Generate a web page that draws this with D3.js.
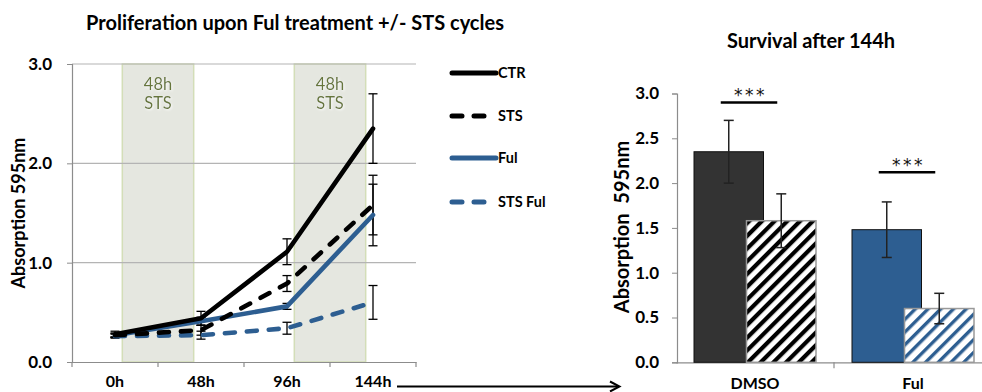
<!DOCTYPE html>
<html><head><meta charset="utf-8">
<script src="https://cdn.jsdelivr.net/npm/d3@7"></script>
<style>
html,body{margin:0;padding:0;background:#fff;}
svg text{font-family:Lato,"Open Sans",sans-serif;}
</style></head>
<body>
<svg id="c" width="982" height="392"></svg>
<script>
// ---------- data ----------
const timepoints = ["0h", "48h", "96h", "144h"];
const seriesNames = ["CTR", "STS", "Ful", "STS Ful"];
const ctrValues   = [0.28, 0.44, 1.11, 2.35];
const ctrErr      = [0.03, 0.07, 0.13, 0.35];
const stsValues   = [0.27, 0.32, 0.79, 1.58];
const stsErr      = [0.02, 0.05, 0.08, 0.30];
const fulValues   = [0.27, 0.41, 0.56, 1.48];
const fulErr      = [0.02, 0.04, 0.03, 0.31];
const stsFulValues= [0.26, 0.27, 0.34, 0.60];
const stsFulErr   = [0.02, 0.04, 0.06, 0.17];
const stsWindows  = [["0h","48h"],["96h","144h"]];
const yTicksLeft  = [0.0, 1.0, 2.0, 3.0];

const groups      = ["DMSO", "Ful"];
const barUntreated= [2.35, 1.48];
const barUntrErr  = [0.35, 0.31];
const barSTS      = [1.58, 0.60];
const barSTSErr   = [0.30, 0.17];
const sigLevel    = [2.90, 2.12];
const yTicksRight = [0.0, 0.5, 1.0, 1.5, 2.0, 2.5, 3.0];

const BLACK = "#000000", BLUE = "#2d5e91";

const svg = d3.select("#c");
const defs = svg.append("defs");
function hatch(id, color, w){
  const p = defs.append("pattern").attr("id", id).attr("patternUnits","userSpaceOnUse")
    .attr("width", 9).attr("height", 9).attr("patternTransform","rotate(45)");
  p.append("rect").attr("width",9).attr("height",9).attr("fill","#fff");
  p.append("rect").attr("x",0).attr("width",w).attr("height",9).attr("fill",color);
}
hatch("hBlack", BLACK, 4.2);
hatch("hBlue", BLUE, 3.4);
const shadow = defs.append("filter").attr("id","ts").attr("x","-20%").attr("y","-20%").attr("width","140%").attr("height","140%");
shadow.append("feDropShadow").attr("dx",1).attr("dy",1).attr("stdDeviation",0.8).attr("flood-color","#ffffff").attr("flood-opacity",0.9);

function boldTicks(sel, size){
  sel.selectAll(".tick text").attr("font-size",size).attr("font-weight","bold").attr("fill","#000")
    .style("font-family","Lato,sans-serif");
}

// ---------- left chart ----------
const L = {x0:72, x1:416, y0:362, y1:64};
const x = d3.scaleBand().domain(timepoints).range([L.x0, L.x1]);
const cx = t => x(t) + x.bandwidth()/2;
const y = d3.scaleLinear().domain([0,3]).range([L.y0, L.y1]);

// STS windows
stsWindows.forEach(w => {
  const a = cx(w[0]) + x.bandwidth()*0.085, b = cx(w[1]) - x.bandwidth()*0.085;
  svg.append("rect").attr("x",a).attr("y",y(3)).attr("width",b-a).attr("height",y(0)-y(3))
    .attr("fill","#e5e7e0").attr("stroke","#d3deb8").attr("stroke-width",1.5);
  const t = svg.append("text").attr("text-anchor","middle").attr("fill","#66763a")
    .attr("font-size",16.5).attr("filter","url(#ts)");
  t.append("tspan").attr("x",(a+b)/2).attr("y",y(3)+26).text("48h");
  t.append("tspan").attr("x",(a+b)/2).attr("y",y(3)+45).text("STS");
});

// gridlines
svg.append("g").selectAll("line").data(yTicksLeft.filter(d=>d>0)).join("line")
  .attr("x1",L.x0).attr("x2",L.x1).attr("y1",d=>y(d)).attr("y2",d=>y(d))
  .attr("stroke","#b4b4b4").attr("stroke-width",1.2);

// axes
const axL = svg.append("g").attr("transform",`translate(${L.x0},0)`)
  .call(d3.axisLeft(y).tickValues(yTicksLeft).tickFormat(d3.format(".1f")).tickSize(5).tickPadding(15));
axL.select(".domain").attr("stroke","#8c8c8c").attr("stroke-width",1.2);
axL.selectAll(".tick line").attr("stroke","#8c8c8c");
boldTicks(axL, 17);

const axB = svg.append("g").attr("transform",`translate(0,${L.y0})`)
  .call(d3.axisBottom(x).tickSize(0).tickPadding(14));
axB.select(".domain").attr("stroke","#8c8c8c").attr("stroke-width",1.2);
boldTicks(axB, 16);
svg.append("g").selectAll("line").data(timepoints.concat(["end"])).join("line")
  .attr("x1",(d,i)=>L.x0 + i*x.bandwidth()).attr("x2",(d,i)=>L.x0 + i*x.bandwidth())
  .attr("y1",L.y0).attr("y2",L.y0+5).attr("stroke","#8c8c8c").attr("stroke-width",1.2);

svg.append("text").attr("transform",`translate(25,213) rotate(-90)`)
  .attr("text-anchor","middle").attr("font-size",18).attr("font-weight","bold").text("Absorption 595nm");
svg.append("text").attr("x",295).attr("y",30).attr("text-anchor","middle")
  .attr("font-size",20).attr("font-weight","bold").text("Proliferation upon Ful treatment +/- STS cycles");

const series = [
  {name:"CTR", v:ctrValues, e:ctrErr, color:BLACK, dash:null},
  {name:"STS", v:stsValues, e:stsErr, color:BLACK, dash:"10,12"},
  {name:"Ful", v:fulValues, e:fulErr, color:BLUE, dash:null},
  {name:"STS Ful", v:stsFulValues, e:stsFulErr, color:BLUE, dash:"10,12"}
];
const line = d3.line().x((d,i)=>cx(timepoints[i])).y(d=>y(d));

// error bars
series.forEach(s => {
  const g = svg.append("g");
  s.v.forEach((v,i)=>{
    const xx = cx(timepoints[i]);
    g.append("line").attr("x1",xx).attr("x2",xx).attr("y1",y(v+s.e[i])).attr("y2",y(v-s.e[i]))
      .attr("stroke","#000").attr("stroke-width",1.3);
    [v+s.e[i], v-s.e[i]].forEach(e=> g.append("line").attr("x1",xx-4.5).attr("x2",xx+4.5)
      .attr("y1",y(e)).attr("y2",y(e)).attr("stroke","#000").attr("stroke-width",1.3));
  });
});
// lines (draw bottom-most first)
[...series].reverse().forEach(s => {
  svg.append("path").datum(s.v).attr("d",line).attr("fill","none").attr("stroke",s.color)
    .attr("stroke-width",4.6).attr("stroke-linecap","round").attr("stroke-linejoin","round")
    .attr("stroke-dasharray",s.dash);
});

// legend
const legY = [73, 116, 158, 202];
series.forEach((s,i)=>{
  svg.append("line").attr("x1",452).attr("x2",(s.dash?493:496)).attr("y1",legY[i]).attr("y2",legY[i])
    .attr("stroke",s.color).attr("stroke-width",5).attr("stroke-linecap","round").attr("stroke-dasharray",s.dash);
  svg.append("text").attr("x",498).attr("y",legY[i]+5).attr("font-size",14.5).attr("font-weight","bold").text(s.name);
});

// arrow
svg.append("line").attr("x1",397).attr("x2",619).attr("y1",386.5).attr("y2",386.5).attr("stroke","#000").attr("stroke-width",2);
svg.append("path").attr("d","M610,381.5 L619.5,386.5 L610,391.5").attr("fill","none").attr("stroke","#000").attr("stroke-width",2);

// ---------- right chart ----------
const R = {x0:676, x1:992, y0:362.3, y1:93.5};
const xb = d3.scaleBand().domain(groups).range([R.x0, R.x1]);
const yb = d3.scaleLinear().domain([0,3]).range([R.y0, R.y1]);
const bw = 69.5, ov = 17, off = (xb.bandwidth() - (2*bw - ov))/2;

const axR = svg.append("g").attr("transform",`translate(677,0)`)
  .call(d3.axisLeft(yb).tickValues(yTicksRight).tickFormat(d3.format(".1f")).tickSize(5).tickPadding(13));
axR.select(".domain").attr("stroke","#8c8c8c").attr("stroke-width",1.2);
axR.selectAll(".tick line").attr("stroke","#8c8c8c");
boldTicks(axR, 17);
const axRB = svg.append("g").attr("transform",`translate(0,${R.y0})`)
  .call(d3.axisBottom(xb).tickSize(0).tickPadding(15));
axRB.select(".domain").attr("stroke","#8c8c8c").attr("stroke-width",1.2);
boldTicks(axRB, 16);
svg.append("line").attr("x1",xb("Ful")).attr("x2",xb("Ful")).attr("y1",R.y0).attr("y2",R.y0+6)
  .attr("stroke","#8c8c8c").attr("stroke-width",1.2);

const fills = [["#333333","url(#hBlack)"],[BLUE,"url(#hBlue)"]];
groups.forEach((g,i)=>{
  const a = xb(g) + off, b = a + bw - ov;
  svg.append("rect").attr("x",a).attr("y",yb(barUntreated[i])).attr("width",bw).attr("height",R.y0-yb(barUntreated[i]))
    .attr("fill",fills[i][0]).attr("stroke","#111").attr("stroke-width",1);
  svg.append("rect").attr("x",b).attr("y",yb(barSTS[i])).attr("width",bw).attr("height",R.y0-yb(barSTS[i]))
    .attr("fill",fills[i][1]).attr("stroke","#999").attr("stroke-width",1.5);
  [[a+bw/2, barUntreated[i], barUntrErr[i]],[b+bw/2, barSTS[i], barSTSErr[i]]].forEach(([xx,v,e])=>{
    svg.append("line").attr("x1",xx).attr("x2",xx).attr("y1",yb(v+e)).attr("y2",yb(v-e)).attr("stroke","#222").attr("stroke-width",1.5);
    [v+e, v-e].forEach(t=>svg.append("line").attr("x1",xx-5).attr("x2",xx+5).attr("y1",yb(t)).attr("y2",yb(t))
      .attr("stroke","#222").attr("stroke-width",1.5));
  });
  const s1 = a + bw/2 - 8, s2 = b + bw/2 - 4;
  svg.append("line").attr("x1",s1).attr("x2",s2).attr("y1",yb(sigLevel[i])).attr("y2",yb(sigLevel[i]))
    .attr("stroke","#000").attr("stroke-width",2.5);
  svg.append("text").attr("x",(s1+s2)/2 + 1.5).attr("y",yb(sigLevel[i])-1).attr("text-anchor","middle")
    .attr("font-size",17).attr("letter-spacing",2.5).attr("fill","#111")
    .style("font-family","'DejaVu Sans',sans-serif").text("***");
});

svg.append("text").attr("transform",`translate(629,227) rotate(-90)`)
  .attr("text-anchor","middle").attr("font-size",20).attr("font-weight","bold")
  .attr("xml:space","preserve").style("white-space","pre").text("Absorption  595nm");
svg.append("text").attr("x",811).attr("y",48).attr("text-anchor","middle")
  .attr("font-size",20).attr("font-weight","bold").text("Survival after 144h");
</script>
</body></html>
